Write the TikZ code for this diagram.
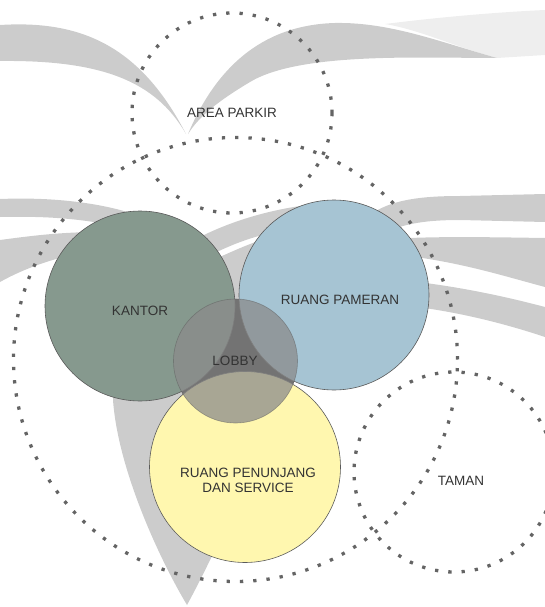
\documentclass[tikz,border=0pt]{standalone}
\usepackage{fontspec}
\setmainfont{Liberation Sans}
\definecolor{wmgray}{RGB}{204,204,204}
\definecolor{wmlight}{RGB}{238,238,238}
\definecolor{dotgray}{RGB}{100,100,100}
\definecolor{edgegray}{RGB}{90,90,90}
\definecolor{txtgray}{RGB}{51,51,51}
\definecolor{kantorc}{RGB}{134,153,142}
\definecolor{pameranc}{RGB}{166,196,211}
\definecolor{penunjangc}{RGB}{255,247,175}
\definecolor{lobbyc}{RGB}{139,139,139}
\definecolor{lobbyunder}{RGB}{45,45,45}
\begin{document}
\begin{tikzpicture}[x=1pt,y=-1pt,
  wm/.style={fill=wmgray, draw=none},
  zone/.style={circle, inner sep=0pt, draw=dotgray, line width=3.3pt, dash pattern=on 3.3pt off 10pt},
  room/.style={circle, inner sep=0pt, draw=edgegray, line width=0.6pt},
  lbl/.style={text=txtgray, font=\fontsize{13.5}{14.7}\selectfont, align=center, inner sep=0pt}]
\useasboundingbox (0,0) rectangle (545,607);
% watermark
\fill[wm] (0,25) .. controls (80,20) and (140,45) .. (186,134) .. controls (155,80) and (100,60) .. (0,61) -- cycle;
\fill[wmlight] (385,24) .. controls (440,17) and (500,12) .. (545,10) -- (545,55) -- (497,58) .. controls (450,45) and (420,30) .. (385,24) -- cycle;
\fill[wm] (188,134) .. controls (215,70) and (260,25) .. (335,23) .. controls (390,22) and (440,42) .. (497,58) .. controls (420,58) and (300,52) .. (250,82) .. controls (220,100) and (200,115) .. (188,134) -- cycle;
\fill[wm] (0,199) .. controls (50,197) and (100,202) .. (140,216) -- (140,232) .. controls (90,218) and (45,216) .. (0,217) -- cycle;
\fill[wm] (0,240) .. controls (30,236) and (60,232) .. (100,232) -- (100,250) .. controls (60,255) and (25,268) .. (0,282) -- cycle;
\fill[wm] (198,238) .. controls (225,224) and (260,212) .. (300,206) -- (330,215) -- (330,228) .. controls (290,226) and (250,234) .. (205,258) -- cycle;
\fill[wm] (370,215) .. controls (390,200) and (420,196) .. (460,196) -- (545,194) -- (545,222) -- (460,220) .. controls (420,220) and (400,225) .. (380,235) -- cycle;
\fill[wm] (380,240) .. controls (420,236) and (480,237) .. (545,238) -- (545,287) .. controls (500,275) and (460,262) .. (400,255) -- cycle;
\fill[wm] (400,280) .. controls (450,285) and (500,295) .. (545,307) -- (545,337) .. controls (500,322) and (450,310) .. (400,305) -- cycle;
\fill[wm] (187,605) .. controls (160,560) and (118,470) .. (113,400) -- (118,330) -- (222,256) .. controls (240,248) and (258,240) .. (275,236) -- (300,240) -- (285,330) -- (268,400) -- (225,530) .. controls (210,560) and (198,585) .. (187,605) -- cycle;
% dotted zones
\node[zone, minimum size=200pt] (parkir) at (232,113) {};
\node[zone, minimum size=444pt] (site) at (235.5,359.5) {};
\node[zone, minimum size=200pt] (taman) at (454,472) {};
% rooms
\node[circle, inner sep=0pt, fill=lobbyunder, minimum size=124pt] (lobbybase) at (235.5,361) {};
\node[room, fill=kantorc, minimum size=190pt] (kantor) at (140,306) {};
\node[room, fill=pameranc, minimum size=190pt] (pameran) at (334,295) {};
\node[room, fill=penunjangc, minimum size=191pt] (penunjang) at (245,467) {};
\node[room, fill=lobbyc, fill opacity=0.75, draw opacity=0.5, minimum size=124pt] (lobby) at (235.5,361) {};
% labels
\node[lbl] (parkirlbl) at (parkir.center) {AREA PARKIR};
\node[lbl] (kantorlbl) at (140,310.5) {KANTOR};
\node[lbl] (pameranlbl) at (340,300) {RUANG PAMERAN};
\node[lbl] (lobbylbl) at (235,361) {LOBBY};
\node[lbl] (penunjanglbl) at (248,480) {RUANG PENUNJANG\\DAN SERVICE};
\node[lbl] (tamanlbl) at (461,481) {TAMAN};
\end{tikzpicture}
\end{document}
